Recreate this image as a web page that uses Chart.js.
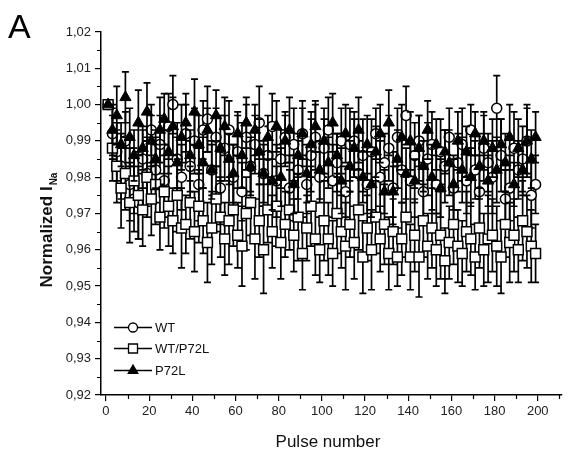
<!DOCTYPE html>
<html><head><meta charset="utf-8">
<script src="https://cdn.jsdelivr.net/npm/chart.js@4.4.1/dist/chart.umd.min.js"></script>
<style>html,body{margin:0;padding:0;background:#fff}#wrap{width:570px;height:463px;position:relative}</style>
</head><body><div id="wrap"><canvas id="c" width="570" height="463"></canvas></div>
<script>
const pulses = [1,3,5,7,9,11,13,15,17,19,21,23,25,27,29,31,33,35,37,39,41,43,45,47,49,51,53,55,57,59,61,63,65,67,69,71,73,75,77,79,81,83,85,87,89,91,93,95,97,99,101,103,105,107,109,111,113,115,117,119,121,123,125,127,129,131,133,135,137,139,141,143,145,147,149,151,153,155,157,159,161,163,165,167,169,171,173,175,177,179,181,183,185,187,189,191,193,195,197,199];

const wtValues = [1.000,0.992,0.987,0.983,0.990,0.978,0.974,0.973,0.985,0.981,
0.993,0.982,0.989,0.979,0.994,1.000,0.985,0.980,0.992,0.983,
0.990,0.978,0.993,0.996,0.982,0.991,0.977,0.988,0.993,0.980,
0.987,0.976,0.991,0.983,0.989,0.995,0.981,0.986,0.994,0.979,
0.985,0.991,0.977,0.989,0.982,0.992,0.978,0.986,0.991,0.980,
0.988,0.993,0.979,0.984,0.990,0.976,0.989,0.990,0.981,0.986,
0.978,0.987,0.992,0.980,0.984,0.988,0.977,0.991,0.982,0.997,
0.979,0.986,0.990,0.976,0.985,0.989,0.978,0.987,0.983,0.991,
0.977,0.984,0.989,0.979,0.993,0.982,0.976,0.988,0.984,0.980,
0.999,0.986,0.974,0.977,0.988,0.982,0.985,0.990,0.975,0.978];
const wtErrors = [0.000,0.007,0.008,0.009,0.008,0.010,0.009,0.010,0.008,0.009,
0.007,0.009,0.008,0.010,0.009,0.008,0.010,0.009,0.008,0.007,
0.009,0.010,0.008,0.009,0.007,0.008,0.010,0.009,0.008,0.009,
0.010,0.008,0.009,0.007,0.008,0.010,0.009,0.008,0.009,0.010,
0.008,0.007,0.009,0.010,0.008,0.009,0.008,0.010,0.009,0.007,
0.008,0.009,0.010,0.008,0.009,0.007,0.010,0.008,0.009,0.010,
0.008,0.009,0.007,0.010,0.008,0.009,0.010,0.008,0.009,0.008,
0.010,0.009,0.007,0.008,0.010,0.009,0.008,0.009,0.010,0.008,
0.009,0.008,0.010,0.009,0.007,0.008,0.010,0.009,0.008,0.010,
0.009,0.010,0.008,0.009,0.010,0.008,0.009,0.010,0.009,0.008];

const hetValues = [1.000,0.988,0.983,0.977,0.981,0.973,0.979,0.975,0.971,0.980,
0.974,0.978,0.969,0.976,0.972,0.968,0.975,0.966,0.967,0.973,
0.965,0.972,0.968,0.962,0.966,0.974,0.969,0.963,0.968,0.971,
0.964,0.961,0.970,0.973,0.963,0.968,0.960,0.971,0.965,0.972,
0.962,0.967,0.971,0.964,0.969,0.959,0.966,0.972,0.963,0.960,
0.968,0.963,0.959,0.970,0.965,0.961,0.967,0.962,0.971,0.958,
0.966,0.960,0.969,0.963,0.967,0.959,0.965,0.958,0.963,0.969,
0.958,0.964,0.958,0.968,0.961,0.966,0.960,0.964,0.957,0.962,
0.967,0.961,0.959,0.965,0.963,0.958,0.966,0.960,0.963,0.964,
0.961,0.958,0.967,0.962,0.964,0.960,0.968,0.965,0.961,0.959];
const hetErrors = [0.000,0.009,0.010,0.011,0.010,0.011,0.009,0.012,0.010,0.011,
0.010,0.011,0.009,0.010,0.011,0.009,0.010,0.011,0.008,0.010,
0.011,0.010,0.009,0.011,0.010,0.009,0.011,0.010,0.012,0.010,
0.009,0.011,0.010,0.009,0.011,0.010,0.012,0.009,0.010,0.011,
0.010,0.009,0.011,0.010,0.012,0.010,0.009,0.011,0.010,0.009,
0.011,0.010,0.009,0.011,0.010,0.012,0.009,0.010,0.011,0.010,
0.009,0.011,0.010,0.009,0.011,0.010,0.009,0.008,0.010,0.011,
0.009,0.010,0.011,0.010,0.009,0.011,0.010,0.012,0.009,0.010,
0.011,0.010,0.009,0.011,0.010,0.009,0.011,0.010,0.012,0.010,
0.011,0.010,0.009,0.011,0.010,0.009,0.011,0.010,0.010,0.008];

const p72lValues = [1.000,0.993,0.997,0.989,1.002,0.991,0.986,0.995,0.988,0.998,
0.990,0.985,0.993,0.996,0.987,0.994,0.984,0.991,0.995,0.986,
0.998,0.989,0.984,0.993,0.982,0.997,0.988,0.994,0.985,0.981,
0.992,0.986,0.995,0.983,0.993,0.987,0.981,0.991,0.979,0.994,
0.980,0.990,0.993,0.978,0.986,0.992,0.981,0.989,0.994,0.982,
0.990,0.984,0.995,0.986,0.979,0.992,0.983,0.988,0.993,0.980,
0.989,0.978,0.987,0.992,0.976,0.995,0.976,0.985,0.991,0.981,
0.990,0.979,0.988,0.983,0.993,0.980,0.989,0.977,0.987,0.984,
0.978,0.990,0.982,0.987,0.980,0.992,0.983,0.990,0.979,0.988,
0.982,0.989,0.984,0.991,0.978,0.988,0.982,0.990,0.985,0.991];
const p72lErrors = [0.000,0.007,0.008,0.006,0.007,0.008,0.007,0.009,0.006,0.008,
0.007,0.008,0.009,0.007,0.006,0.008,0.007,0.009,0.008,0.007,
0.009,0.008,0.007,0.006,0.008,0.007,0.009,0.008,0.007,0.008,
0.006,0.009,0.007,0.008,0.007,0.009,0.008,0.006,0.008,0.007,
0.008,0.007,0.009,0.008,0.006,0.007,0.008,0.009,0.007,0.008,
0.009,0.007,0.008,0.006,0.009,0.008,0.007,0.008,0.009,0.007,
0.008,0.009,0.007,0.008,0.006,0.009,0.007,0.008,0.009,0.007,
0.008,0.006,0.009,0.007,0.008,0.009,0.007,0.008,0.006,0.009,
0.007,0.008,0.009,0.007,0.008,0.006,0.009,0.008,0.007,0.008,
0.009,0.007,0.008,0.009,0.006,0.008,0.007,0.009,0.008,0.007];

const seriesNames = ['WT', 'WT/P72L', 'P72L'];
const xTitle = 'Pulse number';
const yTitleMain = 'Normalized I';
const yTitleSub = 'Na';
const panelLabel = 'A';

const FONT = '"Liberation Sans", Arial, sans-serif';

function toPoints(vals){ return pulses.map((p,i)=>({x:p, y:vals[i]})); }

const errorBars = {
  id: 'errorBars',
  beforeDatasetDraw(chart, args) {
    const ds = chart.data.datasets[args.index];
    const ys = chart.scales.y, ctx = chart.ctx;
    ctx.save();
    ctx.strokeStyle = '#000';
    ctx.lineWidth = 1.7;
    ctx.beginPath();
    args.meta.data.forEach((pt, i) => {
      const v = ds.data[i].y, e = ds.errors[i];
      if (!e) return;
      const y1 = ys.getPixelForValue(v + e), y2 = ys.getPixelForValue(v - e);
      ctx.moveTo(pt.x, y1); ctx.lineTo(pt.x, y2);
      ctx.moveTo(pt.x - 3.5, y1); ctx.lineTo(pt.x + 3.5, y1);
      ctx.moveTo(pt.x - 3.5, y2); ctx.lineTo(pt.x + 3.5, y2);
    });
    ctx.stroke();
    ctx.restore();
  }
};

const decorations = {
  id: 'decorations',
  afterDraw(chart) {
    const ctx = chart.ctx, xs = chart.scales.x, ys = chart.scales.y;
    ctx.save();
    // minor ticks
    ctx.strokeStyle = '#000'; ctx.lineWidth = 1.2;
    ctx.beginPath();
    for (let v = 10; v <= 210; v += 20) {
      const px = Math.round(xs.getPixelForValue(v)) + 0.5;
      ctx.moveTo(px, chart.chartArea.bottom); ctx.lineTo(px, chart.chartArea.bottom + 4);
    }
    for (let k = 0; k < 10; k++) {
      const py = Math.round(ys.getPixelForValue(0.925 + k * 0.01)) + 0.5;
      ctx.moveTo(chart.chartArea.left, py); ctx.lineTo(chart.chartArea.left - 4, py);
    }
    ctx.stroke();

    ctx.fillStyle = '#000';
    // panel label
    ctx.font = '34px ' + FONT;
    ctx.textAlign = 'left'; ctx.textBaseline = 'alphabetic';
    ctx.fillText(panelLabel, 8, 38);

    // x title
    ctx.font = '17px ' + FONT;
    ctx.fillStyle = '#111';
    ctx.textAlign = 'center';
    ctx.fillText(xTitle, 328, 447);

    // y title with subscript
    ctx.save();
    ctx.translate(52, 230);
    ctx.rotate(-Math.PI / 2);
    ctx.font = 'bold 17px ' + FONT;
    const w1 = ctx.measureText(yTitleMain).width;
    ctx.font = 'bold 10px ' + FONT;
    const w2 = ctx.measureText(yTitleSub).width;
    const start = -(w1 + w2 + 1) / 2;
    ctx.textAlign = 'left';
    ctx.font = 'bold 17px ' + FONT;
    ctx.fillText(yTitleMain, start, 0);
    ctx.font = 'bold 10px ' + FONT;
    ctx.fillText(yTitleSub, start + w1 + 1, 5);
    ctx.restore();

    // legend
    const items = chart.data.datasets;
    const legendY = [327, 348, 370];
    items.forEach((ds, i) => {
      const y = legendY[i] + 0.5;
      ctx.strokeStyle = '#000'; ctx.lineWidth = 1.4;
      ctx.beginPath(); ctx.moveTo(114, y); ctx.lineTo(152, y); ctx.stroke();
      ctx.fillStyle = ds.pointBackgroundColor; ctx.strokeStyle = '#000'; ctx.lineWidth = 1.3;
      ctx.beginPath();
      if (ds.pointStyle === 'circle') ctx.arc(133, y, 4.5, 0, Math.PI * 2);
      else if (ds.pointStyle === 'rect') { const s = 4.5; ctx.rect(133 - s, y - s, 2 * s, 2 * s); }
      else { const rr = 5.5; ctx.moveTo(133, y - rr); ctx.lineTo(133 + rr * 0.866, y + rr / 2); ctx.lineTo(133 - rr * 0.866, y + rr / 2); ctx.closePath(); }
      ctx.fill(); ctx.stroke();
      ctx.fillStyle = '#111';
      ctx.font = '13px ' + FONT;
      ctx.textAlign = 'left'; ctx.textBaseline = 'middle';
      ctx.fillText(ds.label, 155, y + 0.5);
    });
    ctx.restore();
  }
};

const chart = new Chart(document.getElementById('c'), {
  type: 'scatter',
  data: {
    datasets: [
      {label: seriesNames[0], data: toPoints(wtValues), errors: wtErrors, pointStyle: 'circle', pointRadius: 5,
       pointBackgroundColor: '#fff', pointBorderColor: '#000', pointBorderWidth: 1.5, backgroundColor: '#fff', borderColor: '#000', order: 2},
      {label: seriesNames[1], data: toPoints(hetValues), errors: hetErrors, pointStyle: 'rect', pointRadius: 7,
       pointBackgroundColor: '#fff', pointBorderColor: '#000', pointBorderWidth: 1.5, backgroundColor: '#fff', borderColor: '#000', order: 1},
      {label: seriesNames[2], data: toPoints(p72lValues), errors: p72lErrors, pointStyle: 'triangle', pointRadius: 6.5,
       pointBackgroundColor: '#000', pointBorderColor: '#000', pointBorderWidth: 1, backgroundColor: '#000', borderColor: '#000', order: 0}
    ]
  },
  options: {
    responsive: false,
    animation: false,
    events: [],
    layout: {padding: {top: 32, right: 0, bottom: 0, left: 0}},
    plugins: {legend: {display: false}, tooltip: {enabled: false}},
    scales: {
      x: {
        type: 'linear', min: -2.3, max: 211,
        afterFit: s => { s.height = 68; },
        ticks: {stepSize: 20, includeBounds: false, color: '#222', font: {family: FONT, size: 13}, padding: 3, maxRotation: 0},
        grid: {drawOnChartArea: false, drawTicks: true, tickLength: 6, color: '#000', lineWidth: 1.2},
        border: {display: true, color: '#000', width: 1.5}
      },
      y: {
        type: 'linear', min: 0.92, max: 1.02,
        afterFit: s => { s.width = 101; },
        ticks: {stepSize: 0.01, includeBounds: false, color: '#222', font: {family: FONT, size: 13}, padding: 4,
                callback: v => v.toFixed(2).replace('.', ',')},
        grid: {drawOnChartArea: false, drawTicks: true, tickLength: 6, color: '#000', lineWidth: 1.2},
        border: {display: true, color: '#000', width: 1.5}
      }
    }
  },
  plugins: [errorBars, decorations]
});
</script>
</body></html>
